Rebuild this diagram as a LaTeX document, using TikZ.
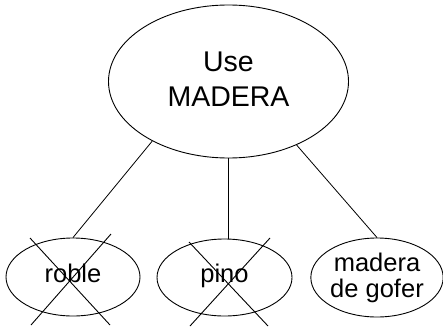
\documentclass[tikz,border=0pt]{standalone}
\usepackage{fontspec}
\setmainfont{Liberation Sans}
\usetikzlibrary{shapes.geometric}
\tikzset{
  wood/.style={draw, ellipse, inner sep=0pt, line width=0.9pt, align=center},
  link/.style={line width=0.8pt},
  strike/.style={line width=0.9pt},
}
\begin{document}
\begin{tikzpicture}[x=1pt,y=-1pt]
\useasboundingbox (0,0) rectangle (443,326);
%%% the main choice on top
\node[wood, minimum width=240pt, minimum height=153pt,
  font=\fontsize{28.5}{35}\selectfont] (use) at (228.5,81.5)
  {\raisebox{6pt}{\begin{tabular}{@{}c@{}}Use\\MADERA\end{tabular}}};
%%% the three kinds of wood
\node[wood, minimum width=134pt, minimum height=78pt,
  font=\fontsize{25.5}{26}\selectfont] (roble) at (73,277) {\strut roble};
\node[wood, minimum width=135pt, minimum height=77pt,
  font=\fontsize{25.5}{26}\selectfont] (pino) at (224.5,277.5) {\strut pino};
\node[wood, minimum width=130pt, minimum height=79pt,
  font=\fontsize{25.5}{26}\selectfont] (gofer) at (377,277.5) {madera\\de gofer};
%links down from the top
\draw[link] (use.218) -- (roble.north);
\draw[link] (use.south) -- (use.south |- pino.north);
\draw[link] (use.317) -- (gofer.north);
%roble and pino are crossed out
\draw[strike] (30,238) -- (110,325);
\draw[strike] (111,234) -- (31,325);
\draw[strike] (189,242) -- (268,326);
\draw[strike] (270,238) -- (190,326);
\end{tikzpicture}
\end{document}
